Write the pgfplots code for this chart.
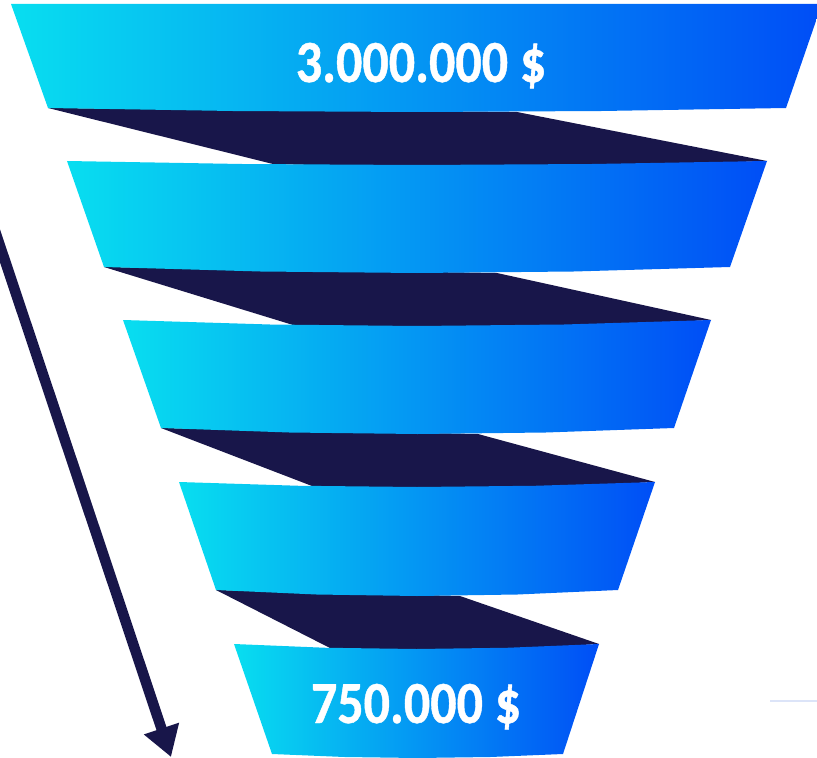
\documentclass[border=0pt]{standalone}
\usepackage{pgfplots}
\pgfplotsset{compat=1.18}
\usepackage{fontspec}
\setmainfont{Carlito}[BoldFeatures={FakeBold=0.8}]
\usetikzlibrary{arrows.meta}
\definecolor{fcyan}{RGB}{8,222,240}
\definecolor{fblue}{RGB}{0,78,246}
\definecolor{fnavy}{RGB}{24,22,74}
\definecolor{fpale}{RGB}{220,228,248}
\begin{document}
\begin{tikzpicture}
\begin{axis}[
  width=817bp, height=758bp, scale only axis,
  xmin=0, xmax=817, ymin=0, ymax=758, y dir=reverse,
  hide axis, clip=true,
]
% connecting dark bands (drawn under the segments)
\addplot[draw=none, fill=fnavy] coordinates {(48,108) (517,112) (767,161) (517,170) (273,164)} -- cycle;
\addplot[draw=none, fill=fnavy] coordinates {(104,267) (497,273) (711,320) (497,331) (293,325)} -- cycle;
\addplot[draw=none, fill=fnavy] coordinates {(161,428) (478,434) (655,482) (478,491) (312,486)} -- cycle;
\addplot[draw=none, fill=fnavy] coordinates {(216,590) (460,596) (599,644) (460,652) (330,648)} -- cycle;
% funnel segments
\addplot[draw=none, left color=fcyan, right color=fblue] coordinates {(11,4) (817,4) (817,18) (786,108) (601.5,111) (417,112) (232.5,111) (48,108)} -- cycle;
\addplot[draw=none, left color=fcyan, right color=fblue] coordinates {(67,161) (242,164) (417,165) (592,164) (767,161) (730,267) (573.5,271.5) (417,273) (260.5,271.5) (104,267)} -- cycle;
\addplot[draw=none, left color=fcyan, right color=fblue] coordinates {(123,320) (270,324.5) (417,326) (564,324.5) (711,320) (674,428) (545.75,432.5) (417.5,434) (289.25,432.5) (161,428)} -- cycle;
\addplot[draw=none, left color=fcyan, right color=fblue] coordinates {(179,482) (298,485.75) (417,487) (536,485.75) (655,482) (618,590) (517.5,594.5) (417,596) (316.5,594.5) (216,590)} -- cycle;
\addplot[draw=none, left color=fcyan, right color=fblue] coordinates {(234,644) (325.25,647.75) (416.5,649) (507.75,647.75) (599,644) (563,754) (490.25,757) (417.5,758) (344.75,757) (272,754)} -- cycle;
% arrow
\addplot[fnavy, line width=10.5bp, -{Triangle[length=30bp, width=35bp]}] coordinates {(-10,216) (171,757)};
% faint line
\addplot[fpale, line width=2bp] coordinates {(770,701) (817,701)};
\node[anchor=base, text=white, font=\fontsize{60}{60}\selectfont\bfseries] at (axis cs:421,82) {\scalebox{0.87}[1]{3.000.000 \$}};
\node[anchor=base, text=white, font=\fontsize{60}{60}\selectfont\bfseries] at (axis cs:416,723) {\scalebox{0.87}[1]{750.000 \$}};
\coordinate (SW) at (axis cs:0,758);
\coordinate (NE) at (axis cs:817,0);
\end{axis}
\pgfresetboundingbox
\path[use as bounding box] (SW) rectangle (NE);
\end{tikzpicture}
\end{document}
